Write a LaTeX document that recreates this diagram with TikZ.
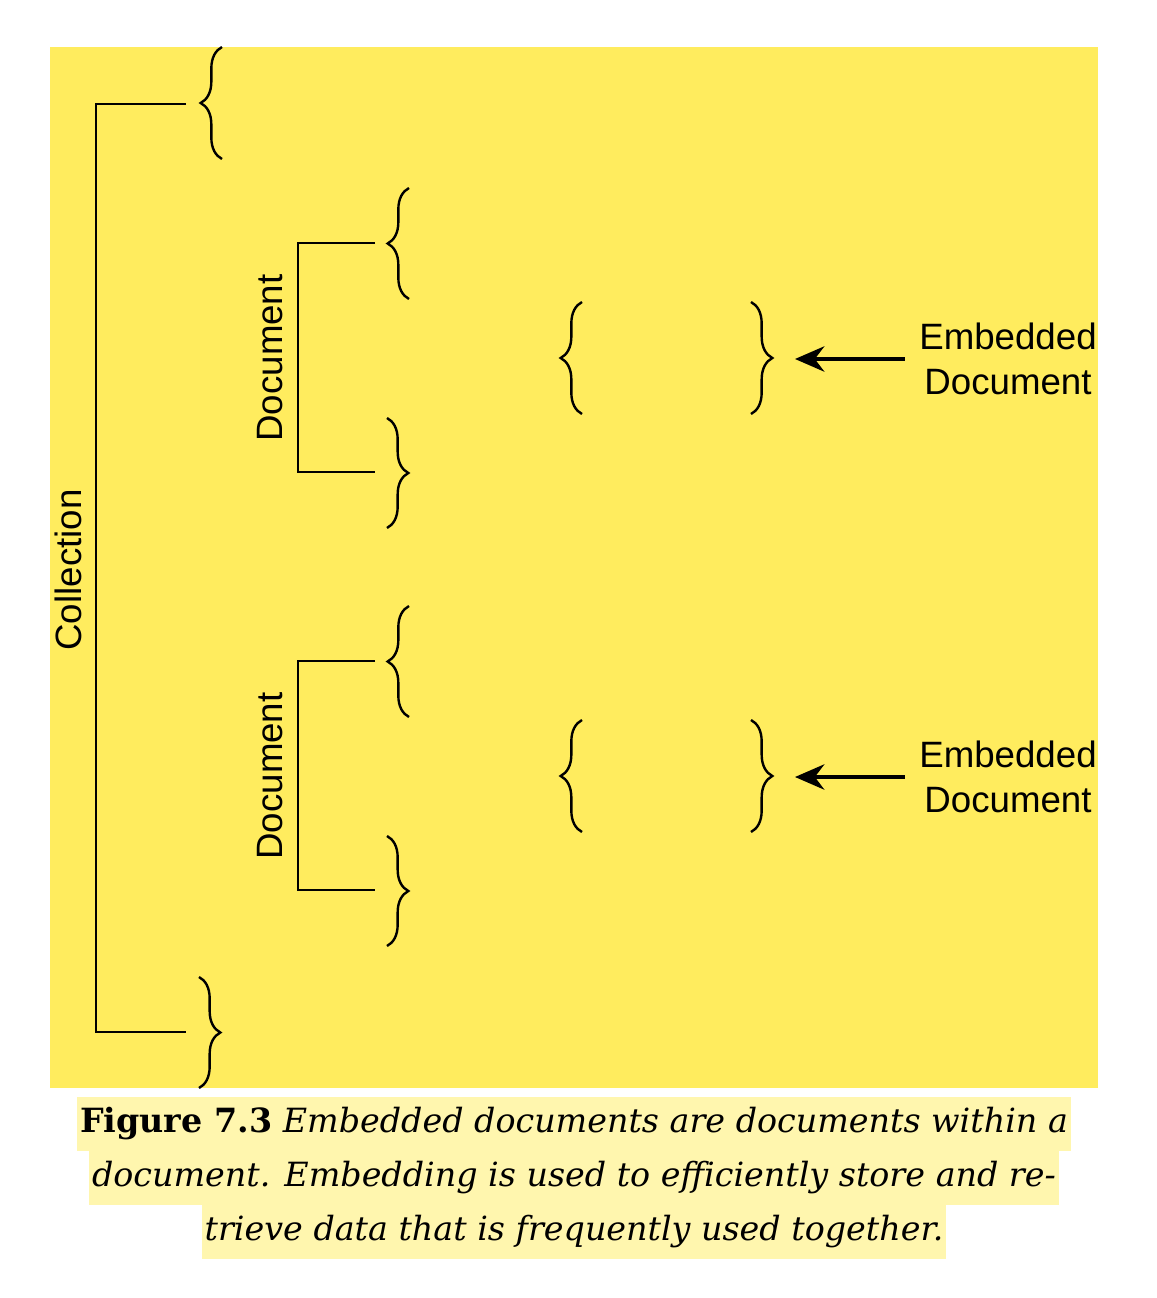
\documentclass[tikz,border=0pt]{standalone}
\usepackage{fontspec}
\setmainfont{Liberation Sans}
\newfontfamily\capfont{DejaVu Serif}
\usepackage{tikz}
\usetikzlibrary{decorations.pathreplacing,arrows.meta}
\definecolor{sheet}{RGB}{255,236,94}
\definecolor{capbg}{RGB}{255,246,174}

\begin{document}
\begin{tikzpicture}[x=0.75pt,y=-0.75pt,line width=1.8pt,
  lbl/.style={font=\fontsize{27.5}{33.5}\selectfont,align=center,inner sep=0pt},
  brc/.style={decorate,decoration={brace,amplitude=16pt}},
  capline/.style={fill=capbg,font=\capfont\fontsize{25}{29}\selectfont,inner xsep=2pt,inner ysep=0pt,minimum height=40.5pt}]
\fill[white] (0,0) rectangle (1156,1298);
\fill[sheet] (50,47) rectangle (1098,1088);
% collection
\coordinate (ct) at (186,104);
\coordinate (cb) at (186,1032);
\draw (ct) -- ++(-90,0) |- (cb);
\node[lbl,rotate=90] (coll) at (68,570) {Collection};
\draw[brc] (222,159) -- (222,47);
\draw[brc] (199,977) -- (199,1088);
% documents
\foreach \o in {0,418}{
	\coordinate (dt\o) at (375,243+\o);
	\coordinate (db\o) at (375,472+\o);
	\draw (dt\o) -- ++(-77,0) |- (db\o);
	\node[lbl,rotate=90] (doc\o) at (270,358+\o) {Document};
	\draw[brc] (409,299+\o) -- (409,188+\o);
	\draw[brc] (387,418+\o) -- (387,528+\o);
	\draw[brc] (582,414+\o) -- (582,302+\o);
	\draw[brc] (751,302+\o) -- (751,414+\o);
	\coordinate (et\o) at (795,359+\o);
	\node[lbl,inner xsep=10pt] (emb\o) at (1008,359+\o) {Embedded\\Document};
	\draw[-{Stealth[length=22pt,width=19pt]},line width=2.6pt] (emb\o.west) -- (et\o);
}
% caption
\node[capline] (cap1) at (574,1124) {{\bfseries Figure 7.3} \itshape Embedded documents are documents within a};
\node[capline] (cap2) at (574,1178) {\itshape document. Embedding is used to efficiently store and re-};
\node[capline] (cap3) at (574,1232) {\itshape trieve data that is frequently used together.};
\end{tikzpicture}
\end{document}
